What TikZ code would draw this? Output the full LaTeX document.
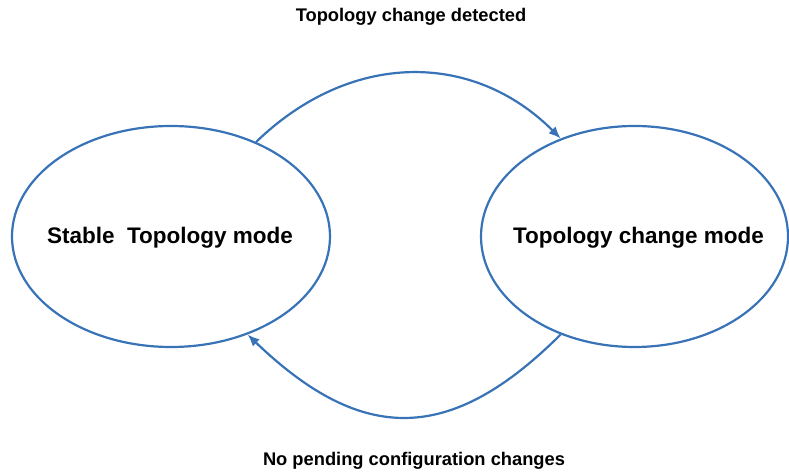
\documentclass[tikz,border=0pt]{standalone}
\usepackage{fontspec}
\setmainfont{Liberation Sans}
\usetikzlibrary{shapes.geometric,arrows.meta}
\definecolor{edgeblue}{RGB}{55,115,182}
\tikzset{
  state/.style={ellipse,draw=edgeblue,line width=2.2pt,inner sep=0pt},
  statetext/.style={font=\fontsize{22.5}{26}\selectfont\bfseries,text height=16pt,text depth=0pt,inner sep=0pt},
  arr/.style={draw=edgeblue,line width=2.2pt,-{Latex[length=12pt,width=10pt]}},
  lbl/.style={font=\fontsize{18.3}{22}\selectfont\bfseries,anchor=base,inner sep=0pt}
}
\begin{document}
\begin{tikzpicture}[x=1pt,y=1pt]
\useasboundingbox (0,0) rectangle (789,471);
\node[state,minimum width=318pt,minimum height=221pt] (L) at (171,234.5) {};
\node[state,minimum width=307pt,minimum height=221pt] (R) at (634.5,234.5) {};
\node[statetext] (Lt) at (170,235.5) {Stable\ \ Topology mode};
\node[statetext] (Rt) at (638.5,235.5) {Topology change mode};
\node[lbl] (top) at (411,449) {Topology change detected};
\node[lbl] (bot) at (414,6) {No pending configuration changes};
\draw[arr] (L.48.3) .. controls +(94,91) and +(-88,88) .. (R.127.8);
\draw[arr] (R.233.7) .. controls +(-110,-109.5) and +(115,-110.5) .. (L.308.6);
\end{tikzpicture}
\end{document}
